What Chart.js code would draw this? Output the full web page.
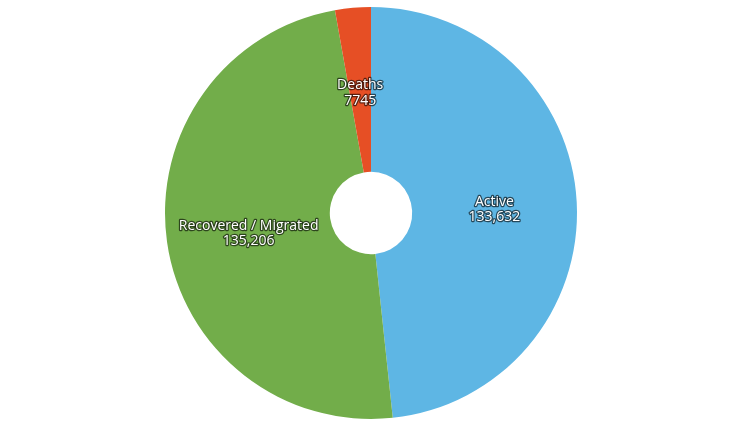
<!DOCTYPE html>
<html>
<head>
<meta charset="utf-8">
<script src="https://cdn.jsdelivr.net/npm/chart.js@4/dist/chart.umd.min.js"></script>
<style>
  html, body { margin: 0; padding: 0; background: #fff; }
  #wrap { width: 751px; height: 422px; }
</style>
</head>
<body>
<div id="wrap"><canvas id="pie"></canvas></div>
<script>
const categories = ['Active', 'Recovered / Migrated', 'Deaths'];
const counts = [133632, 135206, 7745];
const sliceColors = ['#5EB6E4', '#72AD4A', '#E64F25'];

// Highcharts-style number: no separator below 10000
function fmt(v) {
  return v >= 10000 ? v.toLocaleString('en-US') : String(v);
}

// Draw the labels in the middle of each slice ring
const sliceLabels = {
  id: 'sliceLabels',
  afterDatasetsDraw(chart) {
    const ctx = chart.ctx;
    const meta = chart.getDatasetMeta(0);
    ctx.save();
    ctx.font = '14px "Open Sans", sans-serif';
    ctx.textAlign = 'center';
    ctx.textBaseline = 'middle';
    ctx.lineJoin = 'round';
    meta.data.forEach((arc, i) => {
      const p = arc.getProps(['x', 'y', 'startAngle', 'endAngle', 'innerRadius', 'outerRadius'], true);
      const mid = (p.startAngle + p.endAngle) / 2;
      const r = (p.innerRadius + p.outerRadius) / 2;
      const cx = p.x + Math.cos(mid) * r;
      const cy = p.y + Math.sin(mid) * r + 3;
      const lines = [categories[i], fmt(counts[i])];
      lines.forEach((t, k) => {
        const ty = cy + (k - 0.5) * 15.5;
        ctx.lineWidth = 2.5;
        ctx.strokeStyle = 'rgba(0,0,0,0.6)';
        ctx.strokeText(t, cx, ty);
        ctx.fillStyle = '#fff';
        ctx.fillText(t, cx, ty);
      });
    });
    ctx.restore();
  }
};

new Chart(document.getElementById('pie'), {
  type: 'doughnut',
  data: {
    labels: categories,
    datasets: [{
      data: counts,
      backgroundColor: sliceColors,
      borderWidth: 0
    }]
  },
  options: {
    responsive: true,
    maintainAspectRatio: false,
    animation: false,
    cutout: '20%',
    layout: { padding: { top: 7, bottom: 3, left: 0, right: 9 } },
    plugins: {
      legend: { display: false },
      tooltip: { enabled: false }
    }
  },
  plugins: [sliceLabels]
});
</script>
</body>
</html>
